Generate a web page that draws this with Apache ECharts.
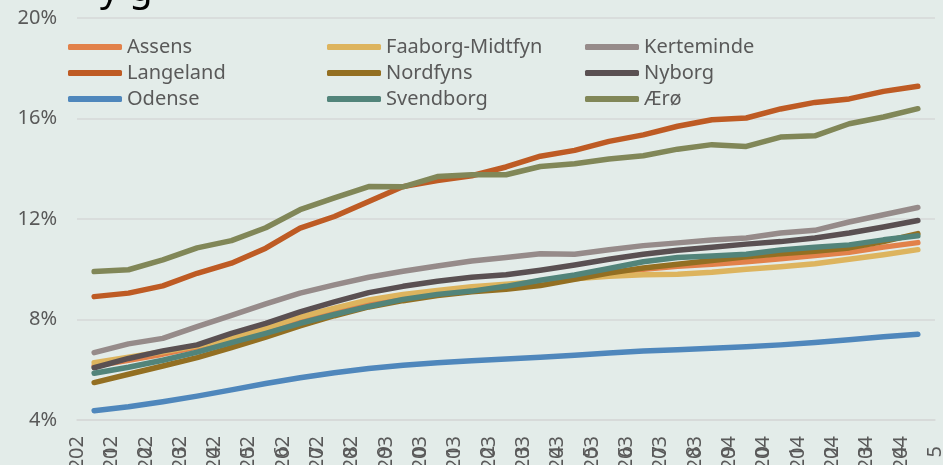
<!DOCTYPE html>
<html>
<head>
<meta charset="utf-8">
<script src="https://cdn.jsdelivr.net/npm/echarts@6/dist/echarts.min.js"></script>
<style>
html, body { margin: 0; padding: 0; background: #e3ece9; }
#main { width: 943px; height: 465px; }
</style>
</head>
<body>
<div id="main"></div>
<script>
// år 2021-2045
const years = ['2021', '2022', '2023', '2024', '2025', '2026', '2027', '2028', '2029', '2030',
  '2031', '2032', '2033', '2034', '2035', '2036', '2037', '2038', '2039', '2040',
  '2041', '2042', '2043', '2044', '2045']

const assens = [6.15, 6.38, 6.62, 6.9, 7.2, 7.55, 7.95, 8.3, 8.65, 8.9, 9.08, 9.22, 9.35, 9.5, 9.68, 9.85, 10.0, 10.12, 10.2, 10.3, 10.42, 10.55, 10.68, 10.88, 11.06]
const faaborg = [6.28, 6.5, 6.72, 6.95, 7.25, 7.65, 8.1, 8.45, 8.78, 9.0, 9.15, 9.3, 9.4, 9.5, 9.62, 9.72, 9.78, 9.8, 9.88, 10.0, 10.1, 10.22, 10.4, 10.58, 10.78]
const kerteminde = [6.68, 7.03, 7.25, 7.72, 8.16, 8.62, 9.05, 9.38, 9.68, 9.92, 10.13, 10.33, 10.47, 10.62, 10.6, 10.78, 10.94, 11.05, 11.16, 11.24, 11.44, 11.55, 11.88, 12.17, 12.46]
const langeland = [8.91, 9.05, 9.34, 9.84, 10.24, 10.84, 11.64, 12.1, 12.7, 13.29, 13.53, 13.72, 14.07, 14.5, 14.73, 15.09, 15.35, 15.69, 15.95, 16.02, 16.38, 16.64, 16.78, 17.08, 17.28]
const nordfyns = [5.49, 5.82, 6.15, 6.48, 6.88, 7.3, 7.75, 8.15, 8.5, 8.75, 8.95, 9.1, 9.2, 9.35, 9.6, 9.85, 10.05, 10.2, 10.35, 10.5, 10.62, 10.72, 10.85, 11.1, 11.42]
const nyborg = [6.08, 6.45, 6.75, 6.99, 7.45, 7.85, 8.3, 8.7, 9.07, 9.32, 9.52, 9.68, 9.78, 9.96, 10.17, 10.4, 10.6, 10.76, 10.88, 11.0, 11.1, 11.24, 11.44, 11.68, 11.94]
const odense = [4.37, 4.53, 4.73, 4.95, 5.2, 5.45, 5.68, 5.88, 6.05, 6.18, 6.28, 6.36, 6.43, 6.5, 6.58, 6.67, 6.75, 6.8, 6.86, 6.92, 6.99, 7.08, 7.19, 7.31, 7.41]
const svendborg = [5.86, 6.1, 6.38, 6.7, 7.08, 7.45, 7.85, 8.2, 8.52, 8.8, 9.0, 9.13, 9.32, 9.56, 9.77, 10.03, 10.3, 10.47, 10.53, 10.6, 10.77, 10.88, 10.97, 11.17, 11.33]
const aeroe = [9.91, 9.98, 10.37, 10.85, 11.14, 11.65, 12.37, 12.84, 13.29, 13.28, 13.69, 13.76, 13.76, 14.09, 14.2, 14.39, 14.52, 14.78, 14.96, 14.89, 15.26, 15.31, 15.79, 16.06, 16.39]

const yTicks = [4, 8, 12, 16, 20]

const names = ['Assens', 'Faaborg-Midtfyn', 'Kerteminde', 'Langeland', 'Nordfyns', 'Nyborg', 'Odense', 'Svendborg', 'Ærø']
const values = [assens, faaborg, kerteminde, langeland, nordfyns, nyborg, odense, svendborg, aeroe]
const colors = ['#e2814a', '#ddb45e', '#968b8a', '#be5b24', '#936f22', '#5a5052', '#4f87bc', '#52847a', '#818758']

const font = '"Noto Sans", "Open Sans", sans-serif'
const textColor = '#595959'

const legendBase = {
  orient: 'vertical',
  top: 37,
  padding: 0,
  icon: 'roundRect',
  itemWidth: 54,
  itemHeight: 6,
  itemGap: 6,
  textStyle: { fontFamily: font, fontSize: 20, color: textColor, lineHeight: 20 }
}

let myChart = echarts.init(document.getElementById('main'))
myChart.setOption({
  backgroundColor: '#e3ece9',
  animation: false,
  color: colors,
  title: {
    text: 'y g',
    left: 95,
    top: -34,
    textStyle: { fontFamily: font, fontSize: 38, fontWeight: 'normal', color: '#000' }
  },
  legend: [
    Object.assign({}, legendBase, { left: 68, data: ['Assens', 'Langeland', 'Odense'] }),
    Object.assign({}, legendBase, { left: 327, data: ['Faaborg-Midtfyn', 'Nordfyns', 'Svendborg'] }),
    Object.assign({}, legendBase, { left: 585, data: ['Kerteminde', 'Nyborg', 'Ærø'] })
  ],
  grid: {
    left: 77,
    right: 8,
    top: 18,
    bottom: 45,
    outerBoundsMode: 'none',
    containLabel: false
  },
  xAxis: {
    type: 'category',
    data: years,
    boundaryGap: true,
    axisLine: { show: true, lineStyle: { color: '#d6d9d7', width: 1.5 } },
    axisTick: { show: false },
    axisLabel: {
      interval: 0,
      rotate: 90,
      margin: 16,
      hideOverlap: false,
      lineHeight: 34,
      fontFamily: font,
      fontSize: 20,
      color: textColor,
      // Excel bryder årstallet: "202" + sidste ciffer (centreret)
      formatter: (v) => v.slice(0, 3) + '\n' + v.slice(3) + '\u2002'
    }
  },
  yAxis: {
    type: 'value',
    min: yTicks[0],
    max: yTicks[yTicks.length - 1],
    interval: 4,
    axisLine: { show: false },
    axisTick: { show: false },
    splitLine: { lineStyle: { color: '#d6d9d7', width: 1.5 } },
    axisLabel: {
      margin: 20,
      fontFamily: font,
      fontSize: 20,
      color: textColor,
      formatter: '{value}%'
    }
  },
  series: names.map((n, i) => ({
    name: n,
    type: 'line',
    data: values[i],
    symbol: 'none',
    lineStyle: { width: 5.5, cap: 'round', join: 'round', color: colors[i] },
    itemStyle: { color: colors[i] }
  }))
})
</script>
</body>
</html>
